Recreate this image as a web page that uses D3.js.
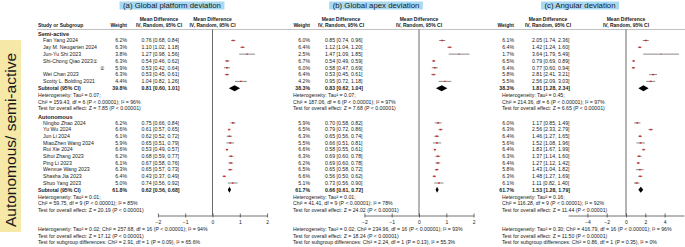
<!DOCTYPE html>
<html>
<head>
<meta charset="utf-8">
<script src="https://cdn.jsdelivr.net/npm/d3@7"></script>
<style>
body{margin:0;background:#fff;}
svg text{font-family:"Liberation Sans",Arial,sans-serif;fill:#1a1a1a;}
</style>
</head>
<body>
<div id="plot"></div>
<script>
// ---- data ----
const semiStudies = ["Fan Yang 2024","Jay M. Neugarten 2024","Jun-Yu Shi 2023","Shi-Chong Qiao 2023\u2460","\u2461","Wei Chan 2023","Scotty L. Bolding 2021"];
const autoStudies = ["Ningbo Zhao 2024","Yu Wu 2024","Jun Li 2024","MiaoZhen Wang 2024","Rui Xie 2024","Sihui Zhang 2023","Ping Li 2023","Wenxue Wang 2023","Shasha Jia 2023","Shuo Yang 2023"];
const groupNames = ["Semi-active","Autonomous"];

// (a) global platform deviation
const platformWeight = [6.2,6.3,3.8,6.3,5.9,6.3,4.4, 6.2,6.6,6.1,5.9,6.6,6.2,6.1,6.3,6.4,5.0];
const platformMD = [0.76,1.10,1.27,0.54,0.53,0.53,1.04, 0.75,0.61,0.62,0.65,0.53,0.68,0.67,0.65,0.43,0.74];
const platformLo = [0.68,1.02,0.98,0.46,0.42,0.45,0.82, 0.66,0.57,0.52,0.51,0.49,0.59,0.58,0.57,0.37,0.56];
const platformHi = [0.84,1.18,1.56,0.62,0.64,0.61,1.26, 0.84,0.65,0.72,0.79,0.57,0.77,0.76,0.73,0.49,0.92];
const platformSubtotal = [[39.8,0.81,0.60,1.01],[61.8,0.62,0.56,0.68]];
const platformHet = [
  ["Heterogeneity: Tau\u00b2 = 0.07;","Chi\u00b2 = 159.43, df = 6 (P < 0.00001); I\u00b2 = 96%","Test for overall effect: Z = 7.85 (P < 0.00001)"],
  ["Heterogeneity: Tau\u00b2 = 0.01;","Chi\u00b2 = 59.75, df = 9 (P < 0.00001); I\u00b2 = 85%","Test for overall effect: Z = 20.19 (P < 0.00001)"]];
const platformOverall = ["Heterogeneity: Tau\u00b2 = 0.02; Chi\u00b2 = 257.68, df = 16 (P < 0.00001); I\u00b2 = 94%","Test for overall effect: Z = 17.12 (P < 0.00001)","Test for subgroup differences: Chi\u00b2 = 2.91, df = 1 (P = 0.09), I\u00b2 = 65.6%"];

// (b) global apex deviation
const apexWeight = [6.0,6.4,2.5,6.7,6.0,6.4,4.2, 5.9,6.5,6.3,5.5,6.6,6.3,6.2,6.5,6.6,5.1];
const apexMD = [0.85,1.12,1.47,0.54,0.58,0.53,0.95, 0.70,0.79,0.65,0.66,0.58,0.69,0.69,0.65,0.56,0.73];
const apexLo = [0.74,1.04,1.09,0.49,0.47,0.45,0.72, 0.58,0.72,0.56,0.51,0.55,0.60,0.60,0.58,0.50,0.56];
const apexHi = [0.96,1.20,1.85,0.59,0.69,0.61,1.18, 0.82,0.86,0.74,0.81,0.61,0.78,0.78,0.72,0.62,0.90];
const apexSubtotal = [[38.3,0.83,0.62,1.04],[61.7,0.66,0.61,0.72]];
const apexHet = [
  ["Heterogeneity: Tau\u00b2 = 0.07;","Chi\u00b2 = 187.06, df = 6 (P < 0.00001); I\u00b2 = 97%","Test for overall effect: Z = 7.68 (P < 0.00001)"],
  ["Heterogeneity: Tau\u00b2 = 0.01;","Chi\u00b2 = 41.41, df = 9 (P < 0.00001); I\u00b2 = 78%","Test for overall effect: Z = 24.02 (P < 0.00001)"]];
const apexOverall = ["Heterogeneity: Tau\u00b2 = 0.02; Chi\u00b2 = 234.96, df = 16 (P < 0.00001); I\u00b2 = 93%","Test for overall effect: Z = 18.24 (P < 0.00001)","Test for subgroup differences: Chi\u00b2 = 2.24, df = 1 (P = 0.13), I\u00b2 = 55.3%"];

// (c) angular deviation
const angularWeight = [6.1,6.4,1.7,6.5,6.4,5.8,5.5, 6.0,6.3,6.4,5.6,6.4,6.3,6.4,5.8,6.3,6.1];
const angularMD = [2.05,1.42,3.64,0.79,0.77,2.81,2.56, 1.17,2.56,1.46,1.52,1.83,1.37,1.27,1.43,1.48,1.11];
const angularLo = [1.74,1.24,1.79,0.69,0.60,2.41,2.09, 0.85,2.33,1.27,1.08,1.67,1.14,1.12,1.04,1.27,0.82];
const angularHi = [2.36,1.60,5.49,0.89,0.94,3.21,3.03, 1.49,2.79,1.65,1.96,1.99,1.60,1.42,1.82,1.69,1.40];
const angularSubtotal = [[38.3,1.81,1.28,2.34],[61.7,1.53,1.28,1.79]];
const angularHet = [
  ["Heterogeneity: Tau\u00b2 = 0.45;","Chi\u00b2 = 214.36, df = 6 (P < 0.00001); I\u00b2 = 97%","Test for overall effect: Z = 6.65 (P < 0.00001)"],
  ["Heterogeneity: Tau\u00b2 = 0.16;","Chi\u00b2 = 116.28, df = 9 (P < 0.00001); I\u00b2 = 92%","Test for overall effect: Z = 11.44 (P < 0.00001)"]];
const angularOverall = ["Heterogeneity: Tau\u00b2 = 0.30; Chi\u00b2 = 416.79, df = 16 (P < 0.00001); I\u00b2 = 96%","Test for overall effect: Z = 11.50 (P < 0.00001)","Test for subgroup differences: Chi\u00b2 = 0.86, df = 1 (P = 0.35), I\u00b2 = 0%"];

const panelTitles = ["(a) Global platform deviation","(b) Global apex deviation","(c) Angular deviation"];
const axisDomains = [[-2,2],[-2,2],[-6,6]];
const axisTicks = [[-2,-1,0,1,2],[-2,-1,0,1,2],[-4,-2,0,2,4]];

window.addEventListener('load', main);

function main(){
  const [W, H] = [685, 247];
  const svg = d3.select('#plot').append('svg').attr('width', W).attr('height', H);
  const fs = 5.2;

  // layout of each panel (positions only)
  const layout = [
    {titleX:172, weightX:127, mdX:141.5, mdHead:159, textX:38, range:[157.9,267.1]},
    {titleX:376, weightX:310, mdX:325,   mdHead:341, textX:293, range:[364.4,473.6]},
    {titleX:580, weightX:514, mdX:532,   mdHead:548, textX:502, range:[568.1,683.9]}
  ];
  const panels = [
    {w:platformWeight, md:platformMD, lo:platformLo, hi:platformHi, sub:platformSubtotal, het:platformHet, all:platformOverall},
    {w:apexWeight, md:apexMD, lo:apexLo, hi:apexHi, sub:apexSubtotal, het:apexHet, all:apexOverall},
    {w:angularWeight, md:angularMD, lo:angularLo, hi:angularHi, sub:angularSubtotal, het:angularHet, all:angularOverall}
  ];

  // rows: y positions
  const semiY = d3.scaleLinear().domain([0,7]).range([40.5, 88.2]);
  const autoY = d3.scaleLinear().domain([0,10]).range([122.9, 189.7]);
  const groupY = [33.6, 116.7];
  const hetY = [[95.5,101.9,108.3],[197,203.3,209.7]];
  const axisY = 215.5;
  const bottomY = [229, 235.8, 242.6];
  const studyY = semiStudies.map((s,i) => semiY(i)).concat(autoStudies.map((s,i) => autoY(i)));
  const subY = [semiY(7), autoY(10)];
  const studies = semiStudies.concat(autoStudies);

  let txt = function(g, x, y, s, opt={}){
    return g.append('text').attr('x', x).attr('y', y).attr('dy','0.35em')
      .attr('font-size', opt.size || fs)
      .attr('font-weight', opt.bold ? 'bold' : null)
      .attr('text-anchor', opt.anchor || 'start')
      .text(s);
  };
  let fmt = d3.format('.2f');
  let ciText = (m,l,h) => `${fmt(m)} [${fmt(l)}, ${fmt(h)}]`;

  // left label band
  svg.append('rect').attr('x',0).attr('y',40).attr('width',21).attr('height',192).attr('fill','#f6e8a6');
  svg.append('text').attr('transform','translate(10.5,140) rotate(-90)')
     .attr('text-anchor','middle').attr('dy','0.35em').attr('font-size',15.5)
     .text('Autonomous/ semi-active');

  // header rule
  svg.append('line').attr('x1',37).attr('x2',685).attr('y1',29.5).attr('y2',29.5)
     .attr('stroke','#999').attr('stroke-width',0.6);

  // study column (panel a only)
  const left = svg.append('g');
  txt(left, 38, 25.5, 'Study or Subgroup', {bold:true, size:5});
  groupNames.forEach((gName,i) => txt(left, 38, groupY[i], gName, {bold:true, size:5.6}));
  studies.forEach((s,i) => {
    if (s === '\u2461') txt(left, 100, studyY[i], s);
    else txt(left, 43, studyY[i], s);
  });
  subY.forEach(y => txt(left, 38, y, 'Subtotal (95% CI)', {bold:true}));

  panels.forEach((p, k) => {
    const L = layout[k];
    const g = svg.append('g').attr('id', `panel${k}`);
    const x = d3.scaleLinear().domain(axisDomains[k]).range(L.range);
    const zero = x(0);

    // title with blue box
    const t = g.append('text').attr('x', L.titleX).attr('y', 5.5).attr('dy','0.35em')
       .attr('text-anchor','middle').attr('font-size',7.8).text(panelTitles[k]);
    const bb = t.node().getBBox();
    g.insert('rect','text').attr('x', bb.x-3.5).attr('y', 1.5).attr('width', bb.width+7).attr('height', 8)
       .attr('fill','#a7d9f3');

    // column headers
    txt(g, L.weightX, 25.5, 'Weight', {bold:true, anchor:'end', size:5});
    txt(g, L.mdHead, 19, 'Mean Difference', {bold:true, anchor:'middle', size:5});
    txt(g, L.mdHead, 25.5, 'IV, Random, 95% CI', {bold:true, anchor:'middle', size:5});
    txt(g, zero, 19, 'Mean Difference', {bold:true, anchor:'middle', size:5});
    txt(g, zero, 25.5, 'IV, Random, 95% CI', {bold:true, anchor:'middle', size:5});

    // study values
    p.w.forEach((w,i) => {
      txt(g, L.weightX, studyY[i], `${w.toFixed(1)}%`, {anchor:'end'});
      txt(g, L.mdX, studyY[i], ciText(p.md[i], p.lo[i], p.hi[i]));
    });
    p.sub.forEach((s,j) => {
      txt(g, L.weightX, subY[j], `${s[0].toFixed(1)}%`, {anchor:'end', bold:true});
      txt(g, L.mdX, subY[j], ciText(s[1], s[2], s[3]), {bold:true});
    });
    p.het.forEach((lines,j) => lines.forEach((s,m) => txt(g, L.textX, hetY[j][m], s)));
    p.all.forEach((s,m) => txt(g, L.textX, bottomY[m], s));

    // zero line
    g.append('line').attr('x1', zero).attr('x2', zero).attr('y1', 29.5).attr('y2', axisY)
     .attr('stroke','#444').attr('stroke-width',0.8);

    // CI lines and weighted squares
    g.selectAll('.ci').data(p.md).join('line')
     .attr('x1', (d,i) => x(p.lo[i])).attr('x2', (d,i) => x(p.hi[i]))
     .attr('y1', (d,i) => studyY[i]).attr('y2', (d,i) => studyY[i])
     .attr('stroke','#555').attr('stroke-width',0.7);
    g.selectAll('.sq').data(p.md).join('rect')
     .attr('width', (d,i) => 0.9 + p.w[i]*0.18)
     .attr('height', (d,i) => 0.6 + p.w[i]*0.14)
     .attr('x', (d,i) => x(d) - (0.9 + p.w[i]*0.18)/2)
     .attr('y', (d,i) => studyY[i] - (0.6 + p.w[i]*0.14)/2)
     .attr('fill','#d42a2a');

    // subtotal diamonds
    g.selectAll('.dm').data(p.sub).join('path')
     .attr('d', (s,j) => {
        const y = subY[j], h = 3;
        return `M${x(s[2])},${y}L${x(s[1])},${y-h}L${x(s[3])},${y}L${x(s[1])},${y+h}Z`;
     })
     .attr('fill','#000');

    // axis
    const ax = g.append('g').attr('transform', `translate(0,${axisY})`)
      .call(d3.axisBottom(x).tickValues(axisTicks[k]).tickSize(2).tickSizeOuter(0).tickPadding(2.5).tickFormat(d3.format('d')));
    ax.select('.domain').attr('stroke','#333').attr('stroke-width',0.7);
    ax.selectAll('.tick line').attr('y1',-2).attr('y2',2).attr('stroke','#333').attr('stroke-width',0.7);
    ax.selectAll('.tick text').attr('font-size',5).attr('font-family','"Liberation Sans",Arial,sans-serif').attr('fill','#1a1a1a');
  });
}
</script>
</body>
</html>
